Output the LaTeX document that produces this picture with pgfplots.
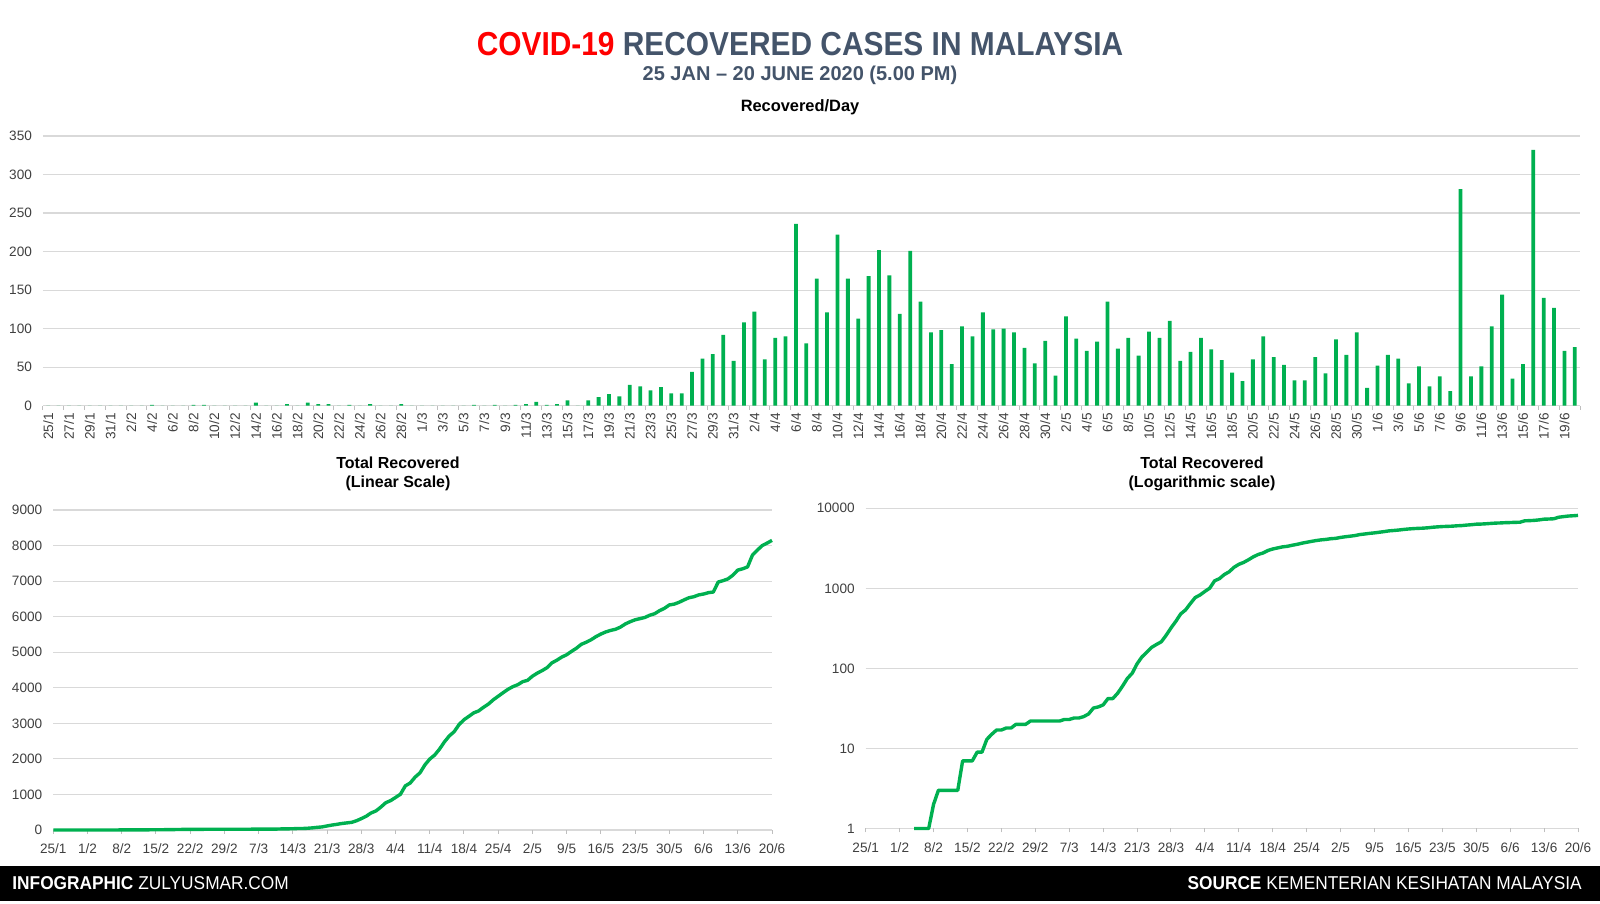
\documentclass[border=0pt]{standalone}
\usepackage{fontspec}
\setmainfont{Liberation Sans}
\usepackage{pgfplots}
\usepackage{pgfplotstable}
\pgfplotsset{compat=1.18}
\usepackage{graphicx}
\definecolor{bargreen}{HTML}{00B050}
\definecolor{slate}{HTML}{44546A}
\definecolor{covidred}{HTML}{FF0000}
\definecolor{gridgray}{HTML}{D9D9D9}
\definecolor{tickgray}{HTML}{BFBFBF}
\definecolor{ticktext}{HTML}{404040}

\pgfplotstableread{
i daily cum
0 0 0
1 0 0
2 0 0
3 0 0
4 0 0
5 0 0
6 0 0
7 0 0
8 0 0
9 0 0
10 1 1
11 0 1
12 0 1
13 0 1
14 1 2
15 1 3
16 0 3
17 0 3
18 0 3
19 0 3
20 4 7
21 0 7
22 0 7
23 2 9
24 0 9
25 4 13
26 2 15
27 2 17
28 0 17
29 1 18
30 0 18
31 2 20
32 0 20
33 0 20
34 2 22
35 0 22
36 0 22
37 0 22
38 0 22
39 0 22
40 0 22
41 1 23
42 0 23
43 1 24
44 0 24
45 1 25
46 2 27
47 5 32
48 1 33
49 2 35
50 7 42
51 0 42
52 7 49
53 11 60
54 15 75
55 12 87
56 27 114
57 25 139
58 20 159
59 24 183
60 16 199
61 16 215
62 44 259
63 61 320
64 67 387
65 92 479
66 58 537
67 108 645
68 122 767
69 60 827
70 88 915
71 90 1005
72 236 1241
73 81 1322
74 165 1487
75 121 1608
76 222 1830
77 165 1995
78 113 2108
79 168 2276
80 202 2478
81 169 2647
82 119 2766
83 201 2967
84 135 3102
85 95 3197
86 98 3295
87 54 3349
88 103 3452
89 90 3542
90 121 3663
91 99 3762
92 100 3862
93 95 3957
94 75 4032
95 55 4087
96 84 4171
97 39 4210
98 116 4326
99 87 4413
100 71 4484
101 83 4567
102 135 4702
103 74 4776
104 88 4864
105 65 4929
106 96 5025
107 88 5113
108 110 5223
109 58 5281
110 70 5351
111 88 5439
112 73 5512
113 59 5571
114 43 5614
115 32 5646
116 60 5706
117 90 5796
118 63 5859
119 53 5912
120 33 5945
121 33 5978
122 63 6041
123 42 6083
124 86 6169
125 66 6235
126 95 6330
127 23 6353
128 52 6405
129 66 6471
130 61 6532
131 29 6561
132 51 6612
133 25 6637
134 38 6675
135 19 6694
136 281 6975
137 38 7013
138 51 7064
139 103 7167
140 144 7311
141 35 7346
142 54 7400
143 332 7732
144 140 7872
145 127 7999
146 71 8070
147 76 8146
}\data

\pgfplotsset{
  base/.style={
    scale only axis,
    axis line style={draw=none},
    ymajorgrids,
    grid style={gridgray, line width=0.6pt},
    tick align=outside,
    xtick pos=bottom, ytick pos=left,
    tick style={tickgray, line width=0.5pt},
    ytick style={draw=none},
    major tick length=2pt,
    minor tick length=2pt,
    /pgf/number format/assume math mode=true,
    /pgf/number format/1000 sep={},
    tick label style={font=\fontsize{6.8}{8}\selectfont, text=ticktext},
    yticklabel style={anchor=east},
  }
}

\begin{document}
\begin{tikzpicture}
\path[use as bounding box] (0,0) rectangle (800pt,452pt);

% Titles
\node[anchor=base, inner sep=0] at (400pt,424pt) {\scalebox{0.9}[1]{\fontsize{16.6}{18}\selectfont\bfseries\textcolor{covidred}{COVID-19} \textcolor{slate}{RECOVERED CASES IN MALAYSIA}}};
\node[anchor=base, inner sep=0] at (400pt,411.7pt) {\fontsize{10}{11}\selectfont\bfseries\textcolor{slate}{25 JAN – 20 JUNE 2020 (5.00 PM)}};
\node[anchor=base, inner sep=0] at (400pt,396pt) {\fontsize{8.2}{10}\selectfont\bfseries Recovered/Day};

% Daily bars
\begin{axis}[base,
  at={(21.5pt,249.15pt)}, anchor=south west,
  width=768.5pt, height=134.85pt,
  xmin=-0.5, xmax=147.5, ymin=0, ymax=350,
  ytick={0,50,...,350},
  xtick={0,2,...,146},
  xticklabels={25/1,27/1,29/1,31/1,2/2,4/2,6/2,8/2,10/2,12/2,14/2,16/2,18/2,20/2,22/2,24/2,26/2,28/2,1/3,3/3,5/3,7/3,9/3,11/3,13/3,15/3,17/3,19/3,21/3,23/3,25/3,27/3,29/3,31/3,2/4,4/4,6/4,8/4,10/4,12/4,14/4,16/4,18/4,20/4,22/4,24/4,26/4,28/4,30/4,2/5,4/5,6/5,8/5,10/5,12/5,14/5,16/5,18/5,20/5,22/5,24/5,26/5,28/5,30/5,1/6,3/6,5/6,7/6,9/6,11/6,13/6,15/6,17/6,19/6},
  major x tick style={draw=none},
  minor xtick={-0.5,1.5,...,147.5},
  xticklabel style={rotate=90, anchor=east, inner sep=1.5pt},
]
\addplot[ybar, bar width=1.9pt, fill=bargreen, draw=none] table[x=i,y=daily]{\data};
\end{axis}

% Bottom titles
\node[anchor=base, inner sep=0] at (199pt,217.5pt) {\fontsize{8}{9.5}\selectfont\bfseries Total Recovered};
\node[anchor=base, inner sep=0] at (199pt,208pt) {\fontsize{8}{9.5}\selectfont\bfseries (Linear Scale)};
\node[anchor=base, inner sep=0] at (601pt,217.5pt) {\fontsize{8}{9.5}\selectfont\bfseries Total Recovered};
\node[anchor=base, inner sep=0] at (601pt,208pt) {\fontsize{8}{9.5}\selectfont\bfseries (Logarithmic scale)};

% Linear
\begin{axis}[base,
  at={(26.65pt,37pt)}, anchor=south west,
  width=359.35pt, height=160pt,
  xmin=0, xmax=147, ymin=0, ymax=9000,
  ytick={0,1000,...,9000},
  xtick={0,7,...,147},
  xticklabels={25/1,1/2,8/2,15/2,22/2,29/2,7/3,14/3,21/3,28/3,4/4,11/4,18/4,25/4,2/5,9/5,16/5,23/5,30/5,6/6,13/6,20/6},
  xticklabel style={yshift=-1.5pt},
  clip=false,
]
\addplot[bargreen, line width=1.7pt, line join=round] table[x=i,y=cum]{\data};
\end{axis}

% Log
\begin{axis}[base,
  at={(432.85pt,37.75pt)}, anchor=south west,
  width=356.15pt, height=160.1pt,
  ymode=log,
  xmin=0, xmax=147, ymin=1, ymax=10000,
  ytick={1,10,100,1000,10000},
  yticklabels={1,10,100,1000,10000},
  xtick={0,7,...,147},
  xticklabels={25/1,1/2,8/2,15/2,22/2,29/2,7/3,14/3,21/3,28/3,4/4,11/4,18/4,25/4,2/5,9/5,16/5,23/5,30/5,6/6,13/6,20/6},
  xticklabel style={yshift=-1.5pt},
  clip=false,
]
\addplot[bargreen, line width=1.7pt, line join=round] table[x=i,y=cum]{\data};
\end{axis}

% Footer
\fill[black] (0,1.5pt) rectangle (800pt,19pt);
\node[anchor=base west, inner sep=0, text=white] at (6pt,7pt) {\scalebox{0.93}[1]{\fontsize{9.3}{11}\selectfont\textbf{INFOGRAPHIC} ZULYUSMAR.COM}};
\node[anchor=base east, inner sep=0, text=white] at (791pt,7pt) {\scalebox{0.93}[1]{\fontsize{9.3}{11}\selectfont\textbf{SOURCE} KEMENTERIAN KESIHATAN MALAYSIA}};
\end{tikzpicture}
\end{document}
